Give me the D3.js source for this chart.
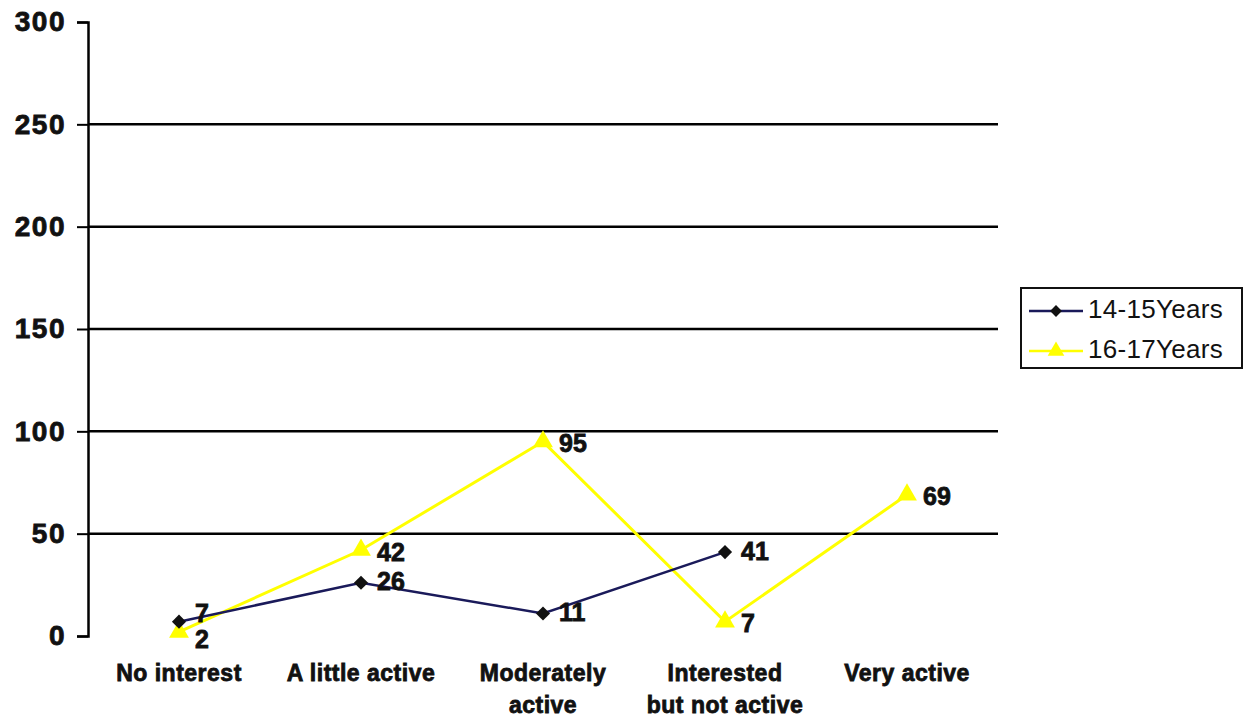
<!DOCTYPE html>
<html>
<head>
<meta charset="utf-8">
<script src="https://cdn.jsdelivr.net/npm/d3@7"></script>
<style>
  body { margin: 0; background: #fff; }
  svg { font-family: "Liberation Sans", Arial, sans-serif; }
</style>
</head>
<body>
<div id="chart"></div>
<script>
// categories on the x axis (each entry = lines of the label)
const categories = ["No interest", "A little active", "Moderately active", "Interested but not active", "Very active"];
const categoryLines = [["No interest"], ["A little active"], ["Moderately", "active"], ["Interested", "but not active"], ["Very active"]];
const yTicks = [0, 50, 100, 150, 200, 250, 300];

const series1Name = "14-15Years";
const series1Values = [7, 26, 11, 41, null];
const series2Name = "16-17Years";
const series2Values = [2, 42, 95, 7, 69];

const width = 1245, height = 719;
const margin = { top: 22, right: 247, bottom: 83, left: 88 };

const svg = d3.select("#chart").append("svg")
    .attr("width", width)
    .attr("height", height);

const x = d3.scaleBand()
    .domain(categories)
    .range([margin.left, width - margin.right]);

const y = d3.scaleLinear()
    .domain([0, 300])
    .range([height - margin.bottom, margin.top]);

// heavy text like the scanned original
const heavy = sel => sel
    .attr("font-weight", "bold")
    .attr("fill", "#111")
    .attr("stroke", "#111")
    .attr("stroke-width", 0.8);

// gridlines
svg.append("g")
    .selectAll("line")
    .data(yTicks.filter(d => d > 0 && d < 300))
    .join("line")
    .attr("x1", margin.left)
    .attr("x2", width - margin.right)
    .attr("y1", d => y(d))
    .attr("y2", d => y(d))
    .attr("stroke", "#000")
    .attr("stroke-width", 2.5);

// y axis
svg.append("g")
    .attr("transform", `translate(${margin.left},0)`)
    .call(d3.axisLeft(y).tickValues(yTicks).tickSize(11).tickPadding(11))
    .call(g => g.select(".domain").attr("stroke-width", 2.5))
    .call(g => g.selectAll(".tick line").attr("stroke-width", 2))
    .call(g => g.selectAll(".tick text")
        .attr("font-size", "28px")
        .attr("letter-spacing", "1.5px")
        .call(heavy));

// category labels
const xLab = svg.append("g")
    .selectAll("text")
    .data(categories)
    .join("text")
    .attr("x", d => x(d) + x.bandwidth() / 2)
    .attr("y", 681)
    .attr("text-anchor", "middle")
    .attr("font-size", "23px")
    .attr("letter-spacing", "0.5px")
    .call(heavy);
xLab.each(function (d, i) {
    d3.select(this).selectAll("tspan")
        .data(categoryLines[i])
        .join("tspan")
        .attr("x", x(d) + x.bandwidth() / 2)
        .attr("dy", (t, j) => j === 0 ? 0 : 32)
        .text(t => t);
});

const cx = (d, i) => x(categories[i]) + x.bandwidth() / 2;

function drawSeries(values, color, lw, marker, markerFill, markerSize, rot) {
    const line = d3.line()
        .defined(d => d != null)
        .x(cx)
        .y(d => y(d));
    svg.append("path")
        .datum(values)
        .attr("fill", "none")
        .attr("stroke", color)
        .attr("stroke-width", lw)
        .attr("d", line);
    const pts = values.map((v, i) => ({ v, i })).filter(p => p.v != null);
    svg.append("g")
        .selectAll("path")
        .data(pts)
        .join("path")
        .attr("transform", p => `translate(${cx(p.v, p.i)},${y(p.v)}) rotate(${rot})`)
        .attr("d", d3.symbol().type(marker).size(markerSize))
        .attr("fill", markerFill);
    return pts;
}

const pts2 = drawSeries(series2Values, "#ffff00", 3, d3.symbolTriangle, "#ffff00", 170, 0);
const pts1 = drawSeries(series1Values, "#1a1a5a", 2.5, d3.symbolSquare, "#111", 100, 45);

// data labels
function labels(pts, dy) {
    svg.append("g")
        .selectAll("text")
        .data(pts)
        .join("text")
        .attr("x", p => cx(p.v, p.i) + 16)
        .attr("y", p => y(p.v) + dy(p))
        .attr("dominant-baseline", "middle")
        .attr("font-size", "25px")
        .call(heavy)
        .text(p => p.v);
}
labels(pts1, p => p.i === 0 ? -6 : 1);
labels(pts2, p => p.i === 0 ? 9 : 4);

// legend
const lg = svg.append("g").attr("transform", "translate(1021,288)");
lg.append("rect")
    .attr("width", 221)
    .attr("height", 80)
    .attr("fill", "#fff")
    .attr("stroke", "#111")
    .attr("stroke-width", 2);
const legendItems = [
    { name: series1Name, color: "#1a1a5a", marker: d3.symbolSquare, fill: "#111", size: 70, rot: 45 },
    { name: series2Name, color: "#ffff00", marker: d3.symbolTriangle, fill: "#ffff00", size: 120, rot: 0 }
];
const li = lg.selectAll("g.item")
    .data(legendItems)
    .join("g")
    .attr("class", "item")
    .attr("transform", (d, i) => `translate(0,${23 + i * 40})`);
li.append("line")
    .attr("x1", 8).attr("x2", 62)
    .attr("stroke", d => d.color)
    .attr("stroke-width", 2.5);
li.append("path")
    .attr("transform", d => `translate(35,0) rotate(${d.rot})`)
    .attr("d", d => d3.symbol().type(d.marker).size(d.size)())
    .attr("fill", d => d.fill);
li.append("text")
    .attr("x", 67)
    .attr("dominant-baseline", "middle")
    .attr("font-size", "26px")
    .attr("letter-spacing", "0.3px")
    .attr("fill", "#111")
    .text(d => d.name);
</script>
</body>
</html>
